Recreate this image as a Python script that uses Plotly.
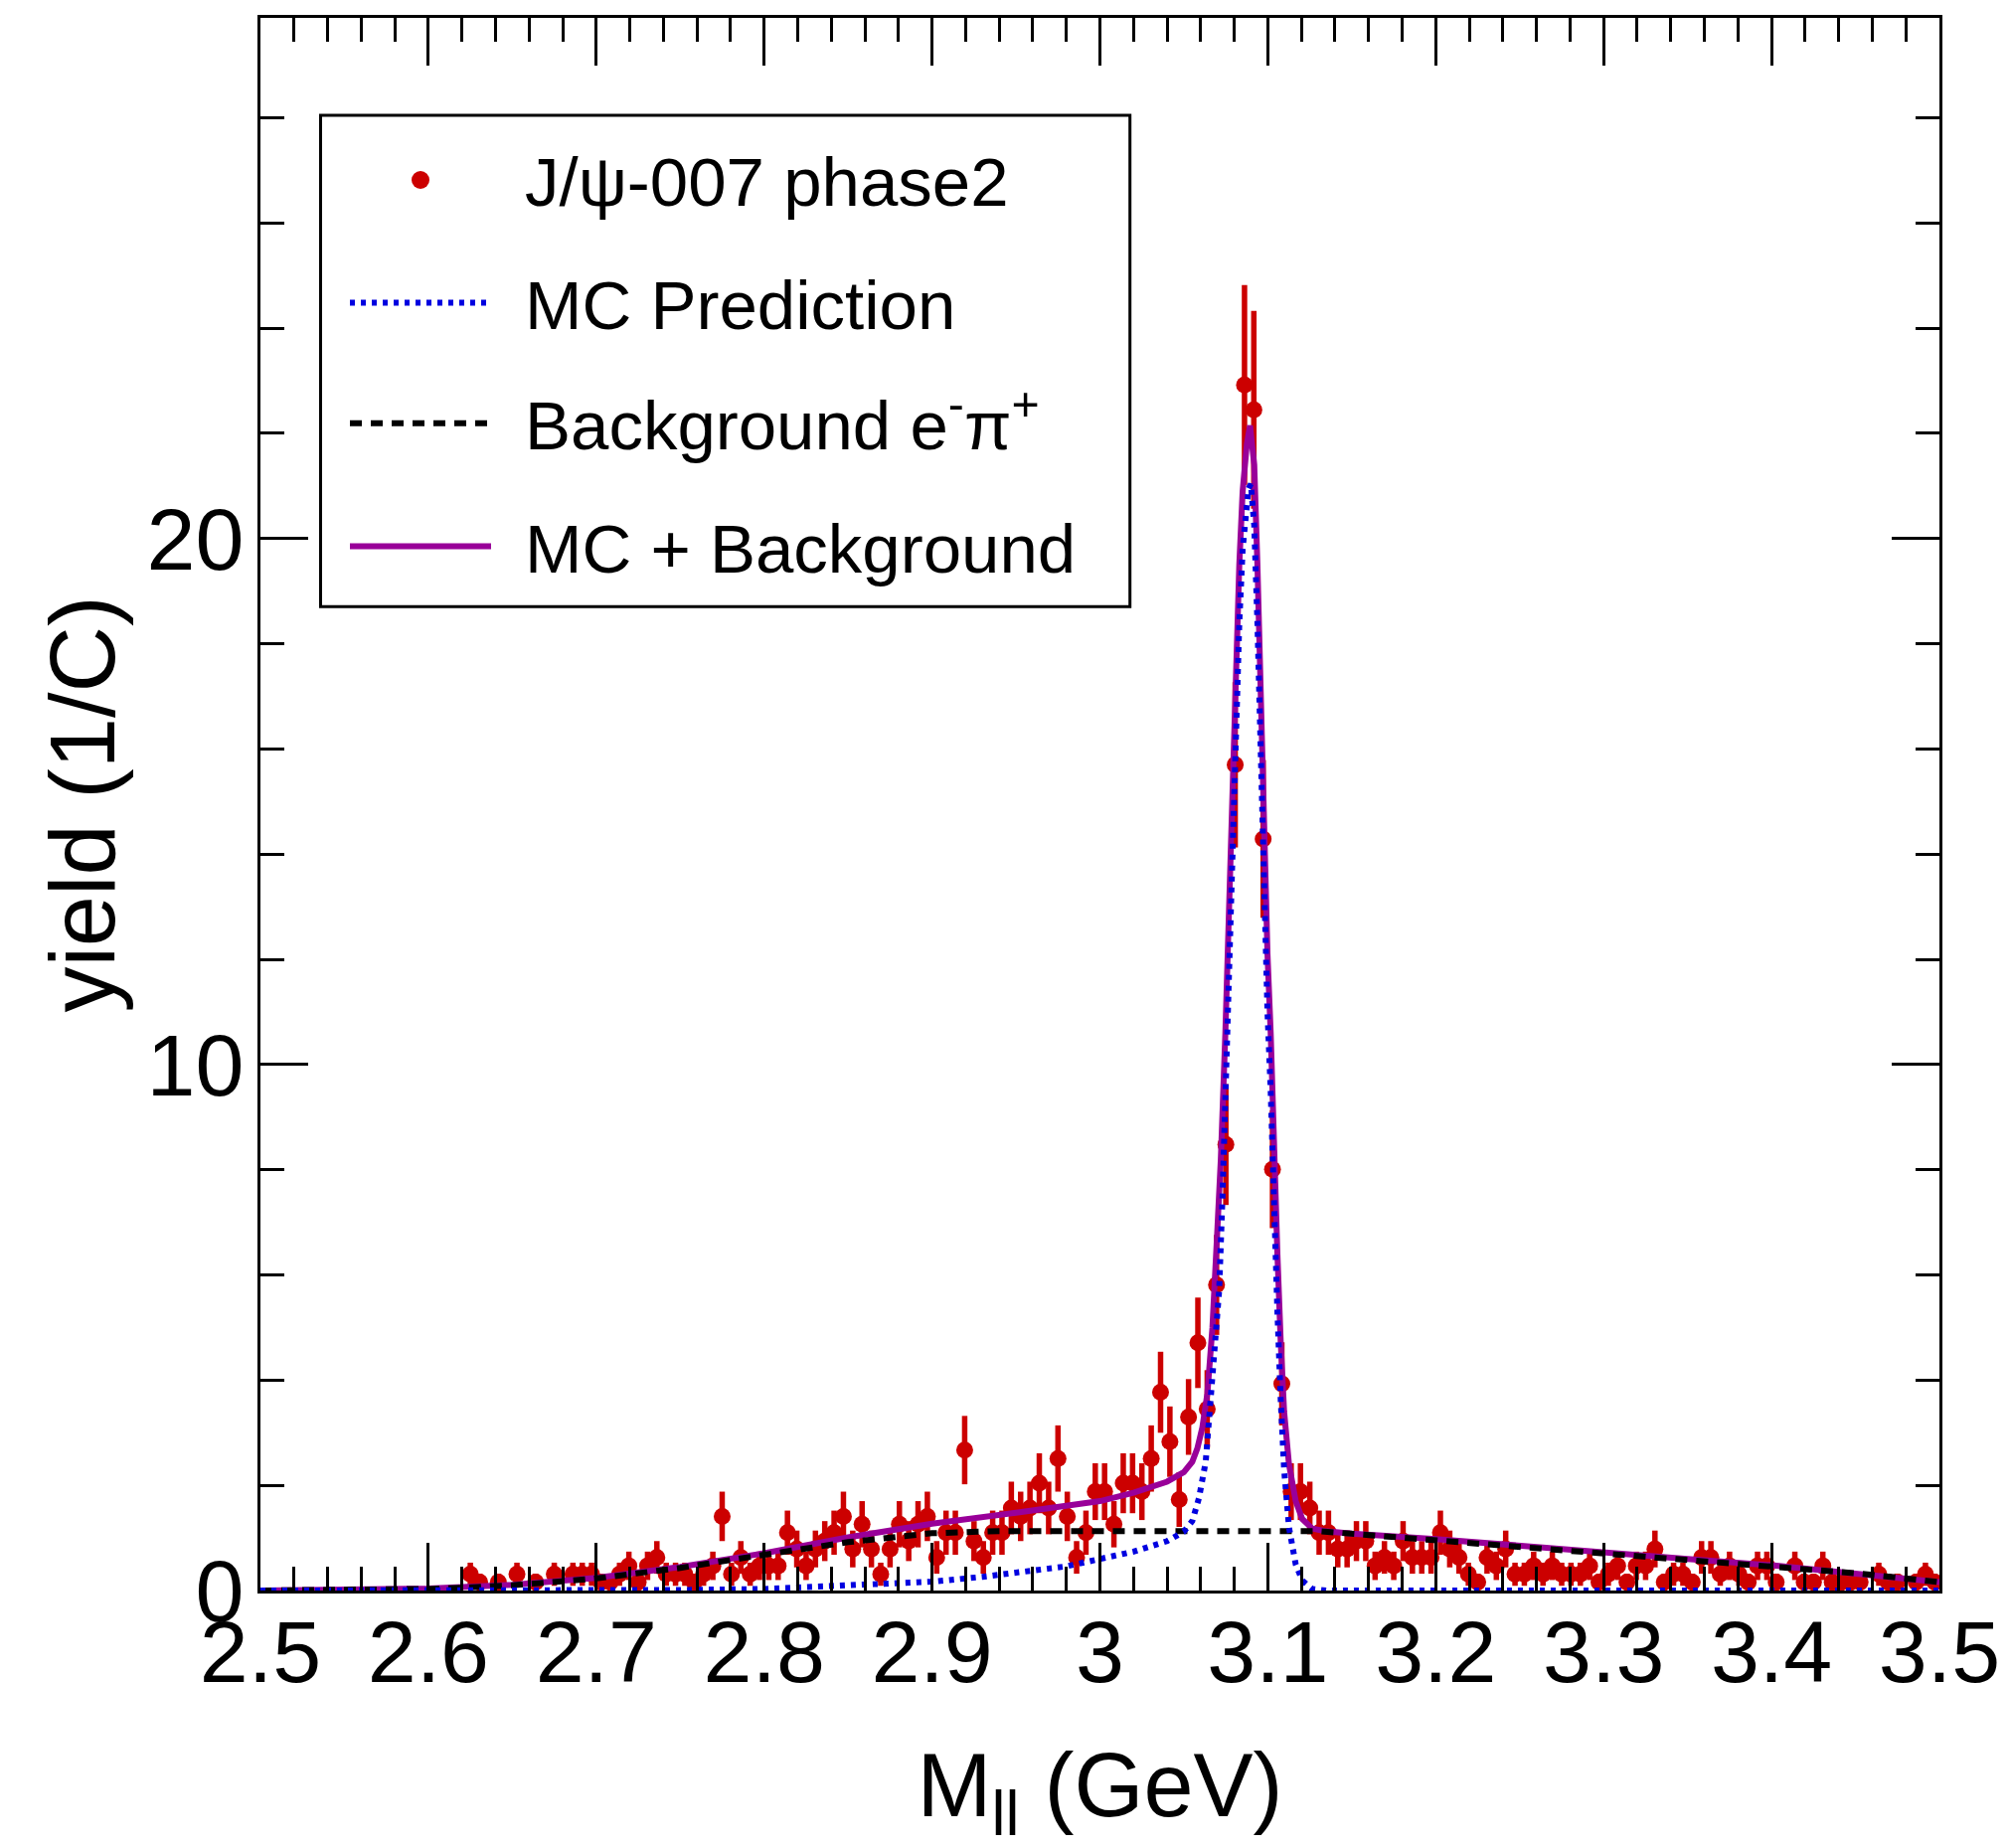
import numpy as np
import plotly.graph_objects as go

# ---------------- data ----------------
M_MIN, M_MAX, N_BINS = 2.5, 3.5, 180

# yield per bin (1/C), bins 0..179 (zero = empty bin, not drawn)
YIELD = [
    0, 0, 0, 0, 0, 0, 0, 0, 0, 0,
    0, 0, 0, 0, 0, 0, 0, 0, 0, 0,
    0, 0, 0.31, 0.16, 0, 0.16, 0, 0.31, 0, 0.16,
    0, 0.31, 0, 0.31, 0.31, 0.31, 0.16, 0.16, 0.31, 0.47,
    0.16, 0.47, 0.63, 0.31, 0.31, 0.31, 0.16, 0.31, 0.47, 1.41,
    0.31, 0.63, 0.31, 0.47, 0.47, 0.47, 1.10, 0.79, 0.47, 0.79,
    0.94, 1.10, 1.41, 0.79, 1.26, 0.79, 0.31, 0.79, 1.26, 0.94,
    1.26, 1.41, 0.63, 1.10, 1.10, 2.67, 0.94, 0.63, 1.10, 1.10,
    1.57, 1.41, 1.57, 2.04, 1.57, 2.51, 1.41, 0.63, 1.10, 1.88,
    1.88, 1.26, 2.04, 2.04, 1.88, 2.51, 3.77, 2.83, 1.73, 3.30,
    4.71, 3.45, 5.81, 8.48, 15.70, 22.92, 22.45, 14.29, 8.01, 3.93,
    1.88, 1.88, 1.57, 1.10, 1.10, 0.79, 0.79, 0.94, 0.94, 0.47,
    0.63, 0.47, 0.94, 0.63, 0.63, 0.63, 1.10, 0.79, 0.63, 0.31,
    0.16, 0.63, 0.47, 0.79, 0.31, 0.31, 0.47, 0.31, 0.47, 0.31,
    0.31, 0.31, 0.47, 0.16, 0.31, 0.47, 0.16, 0.47, 0.47, 0.79,
    0.16, 0.31, 0.31, 0.16, 0.63, 0.63, 0.31, 0.47, 0.31, 0.16,
    0.47, 0.47, 0.16, 0, 0.47, 0.16, 0.16, 0.47, 0.16, 0.16,
    0.16, 0.16, 0, 0.31, 0.16, 0.16, 0, 0.16, 0.31, 0.16,
]
YIELD_ERR = [
    0, 0, 0, 0, 0, 0, 0, 0, 0, 0,
    0, 0, 0, 0, 0, 0, 0, 0, 0, 0,
    0, 0, 0.22, 0.16, 0, 0.16, 0, 0.22, 0, 0.16,
    0, 0.22, 0, 0.22, 0.22, 0.22, 0.16, 0.16, 0.22, 0.27,
    0.16, 0.27, 0.31, 0.22, 0.22, 0.22, 0.16, 0.22, 0.27, 0.47,
    0.22, 0.31, 0.22, 0.27, 0.27, 0.27, 0.42, 0.35, 0.27, 0.35,
    0.38, 0.42, 0.47, 0.35, 0.44, 0.35, 0.22, 0.35, 0.44, 0.38,
    0.44, 0.47, 0.31, 0.42, 0.42, 0.65, 0.38, 0.31, 0.42, 0.42,
    0.50, 0.47, 0.50, 0.57, 0.50, 0.63, 0.47, 0.31, 0.42, 0.54,
    0.54, 0.44, 0.57, 0.57, 0.54, 0.63, 0.77, 0.67, 0.52, 0.72,
    0.86, 0.74, 0.95, 1.15, 1.57, 1.90, 1.88, 1.50, 1.12, 0.79,
    0.54, 0.54, 0.50, 0.42, 0.42, 0.35, 0.35, 0.38, 0.38, 0.27,
    0.31, 0.27, 0.38, 0.31, 0.31, 0.31, 0.42, 0.35, 0.31, 0.22,
    0.16, 0.31, 0.27, 0.35, 0.22, 0.22, 0.27, 0.22, 0.27, 0.22,
    0.22, 0.22, 0.27, 0.16, 0.22, 0.27, 0.16, 0.27, 0.27, 0.35,
    0.16, 0.22, 0.22, 0.16, 0.31, 0.31, 0.22, 0.27, 0.22, 0.16,
    0.27, 0.27, 0.16, 0, 0.27, 0.16, 0.16, 0.27, 0.16, 0.16,
    0.16, 0.16, 0, 0.22, 0.16, 0.16, 0, 0.16, 0.22, 0.16,
]

# MC prediction (blue dotted)
MC_X = [2.50, 2.70, 2.75, 2.80, 2.85, 2.90, 2.93, 2.96, 2.98, 3.00, 3.02, 3.04,
        3.050, 3.055, 3.059, 3.063, 3.066, 3.068, 3.071, 3.073, 3.0747, 3.076,
        3.078, 3.0796, 3.081, 3.083, 3.085, 3.0875, 3.0885, 3.0899, 3.0919,
        3.0938, 3.0952, 3.0964, 3.098, 3.0998, 3.1017, 3.1037, 3.1057, 3.1077,
        3.1097, 3.1126, 3.1166, 3.1205, 3.1264, 3.135, 3.50]
MC_Y = [0.00, 0.00, 0.01, 0.03, 0.09, 0.17, 0.26, 0.37, 0.46, 0.60, 0.74, 0.94,
        1.12, 1.32, 1.76, 2.45, 3.60, 4.60, 5.70, 7.50, 9.50, 11.0,
        12.84, 14.7, 16.55, 18.4, 19.8, 20.7, 20.95, 21.04, 20.25,
        18.4, 16.55, 14.7, 12.84, 10.99, 9.5, 7.0, 5.3, 3.6,
        2.3, 1.2, 0.5, 0.19, 0.03, 0.0, 0.0]

# Background e- pi+ (black dashed)
BG_X = [2.50, 2.55, 2.60, 2.625, 2.65, 2.70, 2.75, 2.80, 2.85, 2.90, 2.92, 2.94,
        3.13, 3.15, 3.20, 3.25, 3.30, 3.35, 3.40, 3.45, 3.50]
BG_Y = [0.00, 0.005, 0.03, 0.06, 0.10, 0.23, 0.43, 0.68, 0.92, 1.09, 1.12, 1.13,
        1.13, 1.08, 0.98, 0.85, 0.71, 0.60, 0.48, 0.33, 0.16]

# MC + Background (purple solid)
SUM_X = [2.50, 2.55, 2.60, 2.65, 2.70, 2.75, 2.80, 2.85, 2.90, 2.95, 3.00, 3.02,
         3.04, 3.050, 3.055, 3.058, 3.061, 3.064, 3.067, 3.070, 3.072, 3.0747,
         3.076, 3.078, 3.0796, 3.081, 3.083, 3.085, 3.0875, 3.0894, 3.0919,
         3.0938, 3.0952, 3.0964, 3.098, 3.0998, 3.1017, 3.1037, 3.1057, 3.1077,
         3.1097, 3.1126, 3.1166, 3.1205, 3.1264, 3.134, 3.15, 3.20, 3.25, 3.30,
         3.35, 3.40, 3.45, 3.50]
SUM_Y = [0.00, 0.01, 0.04, 0.11, 0.24, 0.45, 0.71, 1.01, 1.27, 1.48, 1.70, 1.86,
         2.07, 2.25, 2.45, 2.70, 3.10, 3.75, 5.00, 6.90, 8.20, 10.6,
         12.1, 13.97, 15.8, 17.7, 19.5, 20.9, 21.8, 22.15, 21.4,
         19.5, 17.7, 15.8, 14.0, 12.1, 10.6, 8.1, 6.4, 4.7,
         3.4, 2.4, 1.7, 1.36, 1.18, 1.13, 1.08, 0.98, 0.85, 0.71,
         0.60, 0.48, 0.33, 0.16]

X_TICKS = [2.5, 2.6, 2.7, 2.8, 2.9, 3.0, 3.1, 3.2, 3.3, 3.4, 3.5]
X_TICK_TEXT = ["2.5", "2.6", "2.7", "2.8", "2.9", "3", "3.1", "3.2", "3.3", "3.4", "3.5"]
Y_TICKS = [0, 10, 20]
Y_TICK_TEXT = ["0", "10", "20"]

LEGEND_LABELS = ["J/\u03c8-007 phase2", "MC Prediction",
                 "Background e<sup>-</sup>\u03c0<sup>+</sup>", "MC + Background"]

# ---------------- style ----------------
W, H = 2023, 1859
L, R, T, B = 262, 72, 18, 259
PW, PH = W - L - R, H - T - B
FONT = "Liberation Sans, Arial, Helvetica, sans-serif"
RED = "#CC0000"
BLUE = "#0000E0"
PURPLE = "#990099"
LW = 6

centers = M_MIN + (np.arange(N_BINS) + 0.5) * (M_MAX - M_MIN) / N_BINS
yv = np.array(YIELD, dtype=float)
ev = np.array(YIELD_ERR, dtype=float)
keep = yv > 0

fig = go.Figure()
fig.add_trace(go.Scatter(
    x=centers[keep], y=yv[keep], mode="markers", name=LEGEND_LABELS[0],
    marker=dict(color=RED, size=17, line=dict(width=0)),
    error_y=dict(type="data", array=ev[keep], color=RED, thickness=5.5, width=0),
    showlegend=False))
fig.add_trace(go.Scatter(x=SUM_X, y=SUM_Y, mode="lines", name=LEGEND_LABELS[3],
                         line=dict(color=PURPLE, width=LW), showlegend=False))
fig.add_trace(go.Scatter(x=BG_X, y=BG_Y, mode="lines", name="Background",
                         line=dict(color="black", width=LW, dash="12px,9px"),
                         showlegend=False))
fig.add_trace(go.Scatter(x=MC_X, y=MC_Y, mode="lines", name=LEGEND_LABELS[1],
                         line=dict(color=BLUE, width=LW, dash="5px,6px"),
                         showlegend=False))


def px(x):
    return (x - L) / PW


def py(y):
    return (T + PH - y) / PH


shapes = []
annotations = []
# legend box
shapes.append(dict(type="rect", xref="paper", yref="paper",
                   x0=px(322.5), x1=px(1136.7), y0=py(610.3), y1=py(116.1),
                   line=dict(color="black", width=3), fillcolor="white", layer="above"))
# legend symbols
shapes.append(dict(type="circle", xref="paper", yref="paper",
                   x0=px(414), x1=px(432), y0=py(190), y1=py(172),
                   line=dict(width=0), fillcolor=RED, layer="above"))
for yy, col, dash in [(304.5, BLUE, "5px,6px"), (425.8, "black", "12px,9px"),
                      (549.6, PURPLE, "solid")]:
    shapes.append(dict(type="line", xref="paper", yref="paper",
                       x0=px(352), x1=px(494), y0=py(yy), y1=py(yy),
                       line=dict(color=col, width=LW, dash=dash), layer="above"))
for lab, yy in zip(LEGEND_LABELS, [183, 307, 423, 552.2]):
    annotations.append(dict(xref="paper", yref="paper", x=px(526), y=py(yy),
                            text=lab, showarrow=False, xanchor="left", yanchor="middle",
                            font=dict(family=FONT, size=69, color="black")))

axis_common = dict(
    showgrid=False, zeroline=False, showline=True, linecolor="black", linewidth=3,
    mirror="ticks", ticks="inside", ticklen=48, tickwidth=3, tickcolor="black",
    automargin=False,
    tickfont=dict(family=FONT, size=88, color="black"),
)

fig.update_layout(
    width=W, height=H,
    margin=dict(l=L, r=R, t=T, b=B, pad=0),
    paper_bgcolor="white", plot_bgcolor="white",
    font=dict(family=FONT, color="black"),
    shapes=shapes, annotations=annotations,
    showlegend=False,
    xaxis=dict(axis_common, range=[M_MIN, M_MAX], tickmode="array",
               tickvals=X_TICKS, ticktext=X_TICK_TEXT, ticklabelstandoff=-17,
               minor=dict(ticks="inside", ticklen=24, tickwidth=3, tickcolor="black", dtick=0.02, tick0=2.5),
               title=dict(text="M<sub>ll</sub> (GeV)", standoff=69,
                          font=dict(family=FONT, size=90, color="black"))),
    yaxis=dict(axis_common, range=[0, 29.9], tickmode="array",
               tickvals=Y_TICKS, ticktext=Y_TICK_TEXT, ticklabelstandoff=-4,
               minor=dict(ticks="inside", ticklen=24, tickwidth=3, tickcolor="black", dtick=2, tick0=0),
               title=dict(text="yield (1/C)", standoff=2,
                          font=dict(family=FONT, size=92, color="black"))),
)

fig.write_html("out.html")
